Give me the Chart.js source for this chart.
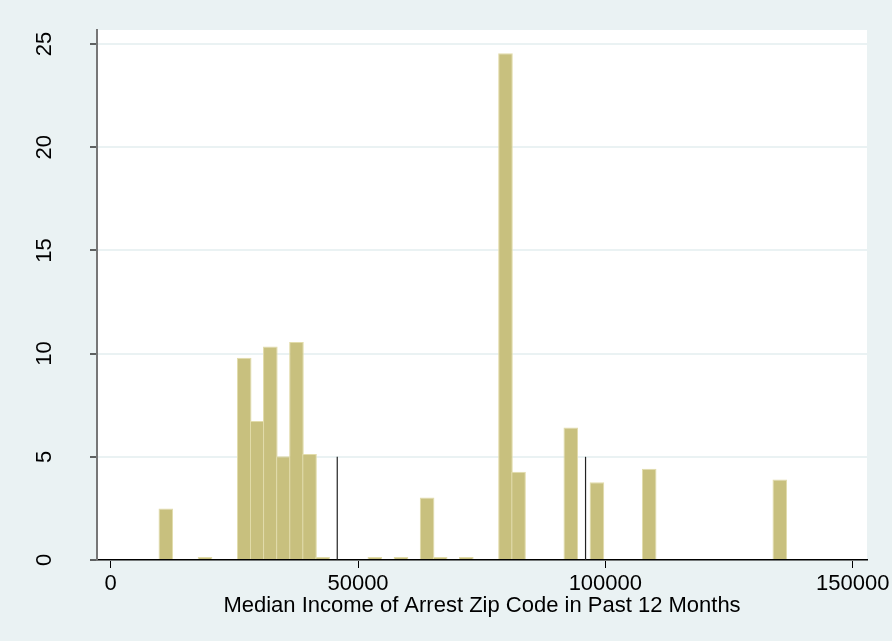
<!DOCTYPE html>
<html>
<head>
<meta charset="utf-8">
<script src="https://cdn.jsdelivr.net/npm/chart.js@4.4.0/dist/chart.umd.min.js"></script>
<style>
  html, body { margin: 0; padding: 0; background: #eaf2f3; }
  #wrap { width: 892px; height: 641px; }
</style>
</head>
<body>
<div id="wrap"><canvas id="c" width="892" height="641"></canvas></div>
<script>
// Histogram bin centers (median income of arrest zip code) and percent of arrests
const incomeBinCenters = [11146, 19069, 26992, 29633, 32274, 34915, 37556, 40197, 42838,
  53402, 58684, 63966, 66607, 71889, 79812, 82453, 93017, 98299, 108863, 135273];
const percentArrests = [2.5, 0.15, 9.8, 6.74, 10.35, 5.03, 10.56, 5.14, 0.15,
  0.15, 0.15, 3.03, 0.15, 0.15, 24.55, 4.27, 6.42, 3.77, 4.42, 3.9];
// Reference lines
const referenceIncomes = [45800, 96000];
const referenceHeight = 5;
// Ticks and labels
const xTickValues = [0, 50000, 100000, 150000];
const yTickValues = [0, 5, 10, 15, 20, 25];
const xTitle = 'Median Income of Arrest Zip Code in Past 12 Months';

const FONT = "'Liberation Sans', Arial, sans-serif";

const plotBg = {
  id: 'plotBg',
  beforeDraw(chart) {
    const { ctx, chartArea: a } = chart;
    ctx.save();
    ctx.fillStyle = '#ffffff';
    ctx.fillRect(a.left, a.top, a.right - a.left, a.bottom - a.top);
    ctx.restore();
  }
};

const datasets = [{
  type: 'bar',
  data: incomeBinCenters.map((x, i) => ({ x: x, y: percentArrests[i] })),
  backgroundColor: 'rgb(200,192,126)',
  borderColor: 'rgb(226,220,170)',
  borderWidth: 1,
  barPercentage: 1.12,
  categoryPercentage: 1.0,
  order: 2
}];
referenceIncomes.forEach(v => {
  datasets.push({
    type: 'line',
    data: [{ x: v, y: 0 }, { x: v, y: referenceHeight }],
    borderColor: '#222',
    borderWidth: 1.2,
    pointRadius: 0,
    fill: false,
    order: 1
  });
});

function zeroPad(s) { s.paddingTop = 0; s.paddingBottom = 0; s.paddingLeft = 0; s.paddingRight = 0; }

new Chart(document.getElementById('c'), {
  type: 'bar',
  data: { datasets },
  plugins: [plotBg],
  options: {
    responsive: false,
    animation: false,
    layout: { padding: { left: 0, top: 30, right: 25, bottom: 0 } },
    plugins: { legend: { display: false }, tooltip: { enabled: false } },
    scales: {
      x: {
        type: 'linear',
        min: -2770,
        max: 152900,
        offset: false,
        afterBuildTicks: s => { s.ticks = xTickValues.map(v => ({ value: v })); },
        afterFit: s => { s.height = 81; zeroPad(s); },
        grid: { display: true, drawOnChartArea: false, drawTicks: true, tickLength: 8, tickColor: '#000', offset: false },
        border: { display: true, color: '#000', width: 1.5 },
        ticks: { font: { family: FONT, size: 22 }, color: '#000', padding: 3, maxRotation: 0, minRotation: 0, autoSkip: false,
          callback: v => String(v) },
        title: { display: true, text: xTitle, font: { family: FONT, size: 22 }, color: '#000', padding: { top: 0, bottom: 22 } }
      },
      y: {
        min: 0,
        max: 25.68,
        afterBuildTicks: s => { s.ticks = yTickValues.map(v => ({ value: v })); },
        afterFit: s => { s.width = 97; zeroPad(s); },
        grid: { color: '#eaf2f3', lineWidth: 2, drawTicks: true, tickLength: 7, tickColor: '#000', tickWidth: 1.2 },
        border: { display: true, color: '#777', width: 2 },
        ticks: { font: { family: FONT, size: 22 }, color: '#000', padding: 33, minRotation: 90, maxRotation: 90, crossAlign: 'center', autoSkip: false,
          callback: v => String(v) }
      }
    }
  }
});
</script>
</body>
</html>
